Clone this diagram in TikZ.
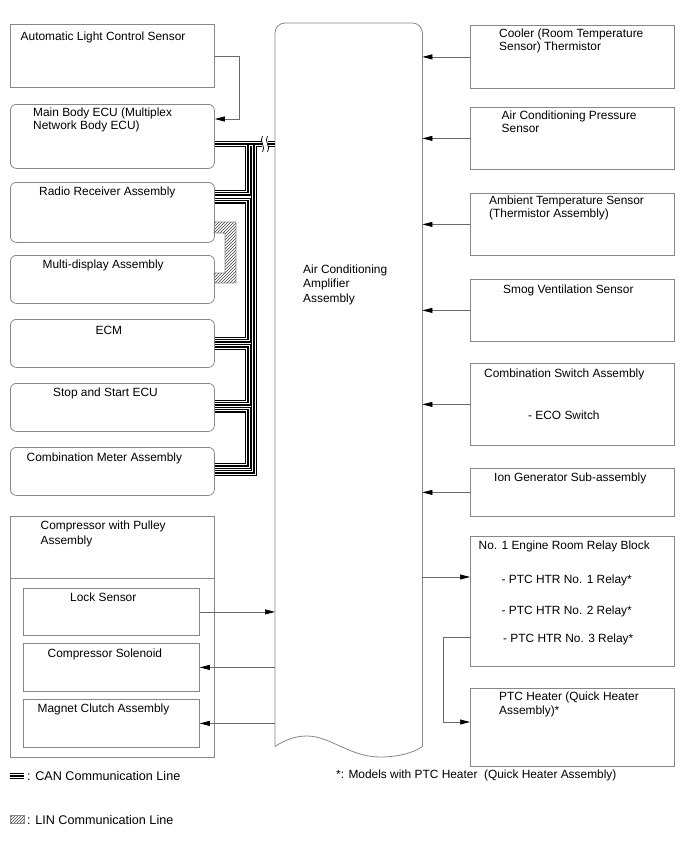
\documentclass[tikz,border=0pt]{standalone}
\usepackage{fontspec}
\setmainfont{Liberation Sans}
\usetikzlibrary{arrows.meta,patterns}
\definecolor{boxgray}{RGB}{135,135,135}
\definecolor{wiregray}{RGB}{105,105,105}

\begin{document}
\begin{tikzpicture}[x=1pt,y=-1pt,
    unit/.style={draw=boxgray, line width=0.8pt, minimum width=204pt, inner sep=0pt, anchor=north west},
    ecu/.style={unit, rounded corners=6pt},
    part/.style={unit, minimum width=176pt},
    txt/.style={anchor=base west, inner sep=0pt, align=left, font=\fontsize{11.9pt}{13.4pt}\selectfont},
    legtxt/.style={txt, font=\fontsize{12.6pt}{14pt}\selectfont},
    sig/.style={draw=wiregray, line width=0.7pt, -{Triangle[length=10pt,width=5pt,color=black]}},
    lin/.style={draw=boxgray, line width=0.6pt, pattern=north east lines, pattern color=black!75}]

    \useasboundingbox (0,0) rectangle (688,852);

    % amplifier in the middle
    \node[inner sep=0pt, minimum width=147pt, minimum height=723pt, anchor=north west] (amp) at (275,23) {};
    \draw[boxgray, line width=0.8pt, rounded corners=10pt] (amp.south west) -- (amp.north west) -- (amp.north east) -- (amp.south east);
    \draw[boxgray, line width=0.8pt] (amp.south east) .. controls (415,752) and (400,757) .. (380,757)
        .. controls (350,757) and (330,736) .. (307,736) .. controls (295,736) and (285,740) .. (amp.south west);
    \node[txt, font=\fontsize{11.9pt}{14.5pt}\selectfont] (ampname) at (303,302) {Air Conditioning\\Amplifier\\Assembly};

    % left side ECUs
    \node[unit, minimum height=63pt] (alcs) at (10,24) {};
    \node[ecu, minimum height=64pt] (bodyecu) at (10,104) {};
    \node[ecu, minimum height=60pt] (radio) at (10,182) {};
    \node[ecu, minimum height=48pt] (multi) at (10,255) {};
    \node[ecu, minimum height=48pt] (ecm) at (10,319) {};
    \node[ecu, minimum height=48pt] (sse) at (10,383) {};
    \node[ecu, minimum height=48pt] (meter) at (10,447) {};

    \node[txt] (alcs-t) at (20.5,40) {Automatic Light Control Sensor};
    \node[txt] (bodyecu-t) at (33,129.5) {Main Body ECU (Multiplex\\Network Body ECU)};
    \node[txt] (radio-t) at (39,195) {Radio Receiver Assembly};
    \node[txt] (multi-t) at (42.5,268) {Multi-display Assembly};
    \node[txt] (ecm-t) at (95.5,334) {ECM};
    \node[txt] (sse-t) at (53,396) {Stop and Start ECU};
    \node[txt] (meter-t) at (26.5,461) {Combination Meter Assembly};

    % compressor
    \node[unit, minimum height=241pt] (comp) at (10,516) {};
    \draw[boxgray, line width=0.8pt] (comp.west |- 0,578) -- (comp.east |- 0,578);
    \node[part, minimum height=47pt] (lock) at (23,588) {};
    \node[part, minimum height=48pt] (sol) at (23,643) {};
    \node[part, minimum height=48pt] (clutch) at (23,699) {};

    \node[txt, font=\fontsize{11.9pt}{15.5pt}\selectfont] (comp-t) at (40.5,544.5) {Compressor with Pulley\\Assembly};
    \node[txt] (lock-t) at (70,601) {Lock Sensor};
    \node[txt] (sol-t) at (47.5,657) {Compressor Solenoid};
    \node[txt] (clutch-t) at (37.5,712) {Magnet Clutch Assembly};

    % right side sensors
    \node[unit, minimum height=63pt] (cooler) at (470,25) {};
    \node[unit, minimum height=62pt] (acps) at (470,107) {};
    \node[unit, minimum height=62pt] (ambient) at (470,193) {};
    \node[unit, minimum height=62pt] (smog) at (470,279) {};
    \node[unit, minimum height=82pt] (combsw) at (470,363) {};
    \node[unit, minimum height=48pt] (iongen) at (470,468) {};
    \node[unit, minimum height=130pt] (relay) at (470,536) {};
    \node[unit, minimum height=78pt] (heater) at (470,688) {};

    \node[txt] (cooler-t) at (499,50.4) {Cooler (Room Temperature\\Sensor) Thermistor};
    \node[txt] (acps-t) at (501.5,132.4) {Air Conditioning Pressure\\Sensor};
    \node[txt] (ambient-t) at (489,217.6) {Ambient Temperature Sensor\\(Thermistor Assembly)};
    \node[txt] (smog-t) at (503,293.5) {Smog Ventilation Sensor};
    \node[txt] (combsw-t) at (484,377) {Combination Switch Assembly};
    \node[txt] (eco-t) at (528,419.5) {- ECO Switch};
    \node[txt] (iongen-t) at (494,481) {Ion Generator Sub-assembly};
    \node[txt] (relay-t) at (478.5,549) {No. 1 Engine Room Relay Block};
    \node[txt] (htr1-t) at (501.5,583.5) {- PTC HTR No. 1 Relay*};
    \node[txt] (htr2-t) at (501.5,614) {- PTC HTR No. 2 Relay*};
    \node[txt] (htr3-t) at (503,642) {- PTC HTR No. 3 Relay*};
    \node[txt] (heater-t) at (499,714) {PTC Heater (Quick Heater\\Assembly)*};

    % signal lines
    \foreach \src in {cooler,acps,ambient,smog,combsw,iongen}
        \draw[sig] (\src.west) -- (\src.west -| amp.east);
    \draw[sig] (alcs.east) -- ++(25,0) |- (bodyecu.east |- 0,119);
    \draw[sig] (lock.east) -- (lock.east -| amp.west);
    \foreach \dst in {sol,clutch}
        \draw[sig] (amp.west |- \dst.east) -- (\dst.east);
    \draw[sig] (amp.east |- 0,577) -- (relay.west |- 0,577);
    \draw[sig] (relay.west |- 0,637) -- ++(-27,0) |- (heater.west |- 0,722);

    % CAN bus
    \coordinate (spur) at (248,0);
    \coordinate (trunk) at (254,0);
    \coordinate (canmain) at (bodyecu.east |- 0,144);
    \coordinate (radio-in) at (radio.east |- 0,192.5);
    \coordinate (radio-out) at (radio.east |- 0,200.5);
    \coordinate (ecm-in) at (ecm.east |- 0,339.5);
    \coordinate (ecm-out) at (ecm.east |- 0,347);
    \coordinate (sse-in) at (sse.east |- 0,402.5);
    \coordinate (sse-out) at (sse.east |- 0,409.5);
    \coordinate (meter-in) at (meter.east |- 0,466);
    \coordinate (meter-out) at (meter.east |- 0,473);
    \foreach \w/\c in {6/black,3.6/white,1.2/black}{
        \draw[line width=\w pt, \c, line join=miter]
            (canmain) -- (canmain -| amp.west)
            (canmain -| spur) |- (radio-in)
            (radio-out) -| (spur |- ecm-in) -- (ecm-in)
            (ecm-out) -| (spur |- sse-in) -- (sse-in)
            (sse-out) -| (spur |- meter-in) -- (meter-in)
            (meter-out) -| (canmain -| trunk)
            (10,776) -- (24,776);
    }
    % break mark
    \fill[white] (262,139) rectangle (268,149);
    \draw[line width=0.7pt] (262.5,136) .. controls (258.5,141) and (266.5,147) .. (262.5,152);
    \draw[line width=0.7pt] (267.5,136) .. controls (263.5,141) and (271.5,147) .. (267.5,152);

    % LIN
    \draw[lin] (radio.east |- 0,222) -- (236,222) -- (236,283) -- (multi.east |- 0,283)
        -- (214,273) -- (225,273) -- (225,233) -- (214,233) -- cycle;

    % legend
    \draw[lin] (10,815) rectangle (24,823);
    \node[legtxt] (can-t) at (27,780) {: CAN Communication Line};
    \node[legtxt] (lin-t) at (27,824) {: LIN Communication Line};
    \node[txt] (note-t) at (336,778) {*: Models with PTC Heater\ \ (Quick Heater Assembly)};
\end{tikzpicture}
\end{document}
